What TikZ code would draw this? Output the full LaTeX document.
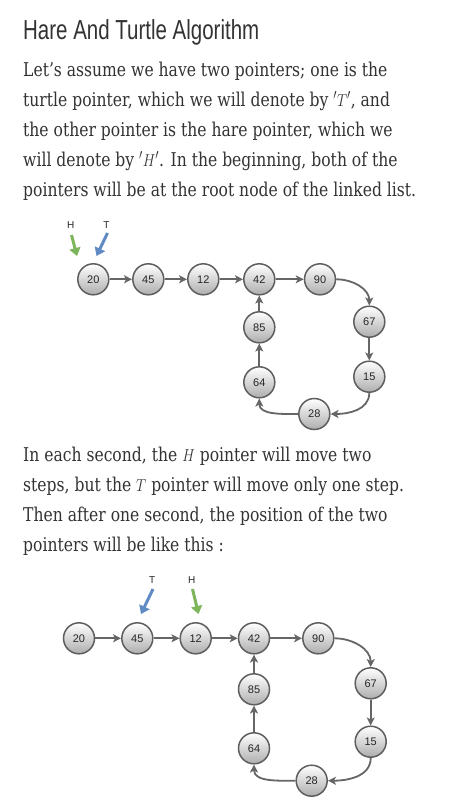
\documentclass[tikz,border=0pt]{standalone}
\usepackage{fontspec}
\setmainfont{DejaVu Serif}
\newfontfamily\titlefont{Liberation Sans}
\newfontfamily\numfont{Liberation Sans}
\usetikzlibrary{arrows.meta}
\definecolor{txt}{HTML}{333333}
\definecolor{edgec}{HTML}{666666}
\definecolor{rimc}{HTML}{5E5E5E}
\definecolor{hare}{HTML}{7DB55B}
\definecolor{turt}{HTML}{5F8AC4}
\newcommand\bodyline[1]{\scalebox{0.82}[1]{#1}}
\begin{document}
\begin{tikzpicture}[x=1pt,y=-1pt,
  body/.style={anchor=base west,inner sep=0,text=txt,font=\fontsize{19}{30}\selectfont},
  ball/.style={circle,minimum size=31pt,inner sep=0,draw=rimc,line width=1.5pt,
    top color=white,bottom color=black!32,font=\numfont\fontsize{11}{12}\selectfont,text=black!85},
  link/.style={draw=edgec,line width=1.8pt,-{Stealth[length=8pt,width=8pt,inset=2pt]}},
  ptr/.style={line width=3pt,-{Triangle[length=8pt,width=11pt]}},
  plab/.style={font=\numfont\fontsize{10}{12}\selectfont,text=black!85,inner sep=0}]
\useasboundingbox (0,0) rectangle (450,809);
\fill[white] (0,0) rectangle (450,809);
% title
\node[anchor=base west,inner sep=0,text=txt] (title) at (23,39.5)
  {\scalebox{0.745}[1]{\titlefont\fontsize{27.5}{30}\selectfont Hare And Turtle Algorithm}};
% paragraph 1
\node[body] (l1) at (23,76) {\bodyline{Let’s assume we have two pointers; one is the}};
\node[body] (l2) at (23,106) {\bodyline{turtle pointer, which we will denote by $'T'$, and}};
\node[body] (l3) at (23,136) {\bodyline{the other pointer is the hare pointer, which we}};
\node[body] (l4) at (23,166) {\bodyline{will denote by $'H'$. In the beginning, both of the}};
\node[body] (l5) at (23,196) {\bodyline{pointers will be at the root node of the linked list.}};
% diagram 1
\node[ball] (a20) at (93.3,279.3) {20};
\node[ball] (a45) at (148.3,279.3) {45};
\node[ball] (a12) at (203.3,279.3) {12};
\node[ball] (a42) at (259.3,279.3) {42};
\node[ball] (a90) at (320,279.3) {90};
\node[ball] (a67) at (369.3,321.7) {67};
\node[ball] (a15) at (369.3,376.7) {15};
\node[ball] (a28) at (314.3,414) {28};
\node[ball] (a64) at (259.3,382.3) {64};
\node[ball] (a85) at (259.3,327.3) {85};
\draw[link] (a20) -- (a45);
\draw[link] (a45) -- (a12);
\draw[link] (a12) -- (a42);
\draw[link] (a42) -- (a90);
\draw[link] (a90.east) to[out=0,in=90] (a67.north);
\draw[link] (a67) -- (a15);
\draw[link] (a15.south) to[out=-90,in=0] (a28.east);
\draw[link] (a28.west) to[out=180,in=-90] (a64.south);
\draw[link] (a64) -- (a85);
\draw[link] (a85) -- (a42);
\node[plab] (aH) at (70.7,225) {H};
\node[plab] (aT) at (106.5,225) {T};
\coordinate (aHs) at (71.5,235);
\coordinate (aHe) at (77,256);
\coordinate (aTs) at (107.5,233);
\coordinate (aTe) at (96.5,256);
\draw[ptr,hare] (aHs) -- (aHe);
\draw[ptr,turt] (aTs) -- (aTe);
% paragraph 2
\node[body] (m1) at (23,461) {\bodyline{In each second, the $H$ pointer will move two}};
\node[body] (m2) at (23,491) {\bodyline{steps, but the $T$ pointer will move only one step.}};
\node[body] (m3) at (23,521) {\bodyline{Then after one second, the position of the two}};
\node[body] (m4) at (23,551) {\bodyline{pointers will be like this :}};
% diagram 2
\node[ball] (b20) at (79,638.3) {20};
\node[ball] (b45) at (137.3,638.3) {45};
\node[ball] (b12) at (195.7,638.3) {12};
\node[ball] (b42) at (254,638.3) {42};
\node[ball] (b90) at (318.3,638.3) {90};
\node[ball] (b67) at (370.7,683.3) {67};
\node[ball] (b15) at (370.7,741.7) {15};
\node[ball] (b28) at (311.7,780.7) {28};
\node[ball] (b64) at (254,748.3) {64};
\node[ball] (b85) at (254,689.3) {85};
\draw[link] (b20) -- (b45);
\draw[link] (b45) -- (b12);
\draw[link] (b12) -- (b42);
\draw[link] (b42) -- (b90);
\draw[link] (b90.east) to[out=0,in=90] (b67.north);
\draw[link] (b67) -- (b15);
\draw[link] (b15.south) to[out=-90,in=0] (b28.east);
\draw[link] (b28.west) to[out=180,in=-90] (b64.south);
\draw[link] (b64) -- (b85);
\draw[link] (b85) -- (b42);
\node[plab] (bT) at (152.3,580) {T};
\node[plab] (bH) at (191.7,580) {H};
\coordinate (bTs) at (153,589);
\coordinate (bTe) at (141,614);
\coordinate (bHs) at (192.5,589);
\coordinate (bHe) at (198.5,614);
\draw[ptr,turt] (bTs) -- (bTe);
\draw[ptr,hare] (bHs) -- (bHe);
\end{tikzpicture}
\end{document}
